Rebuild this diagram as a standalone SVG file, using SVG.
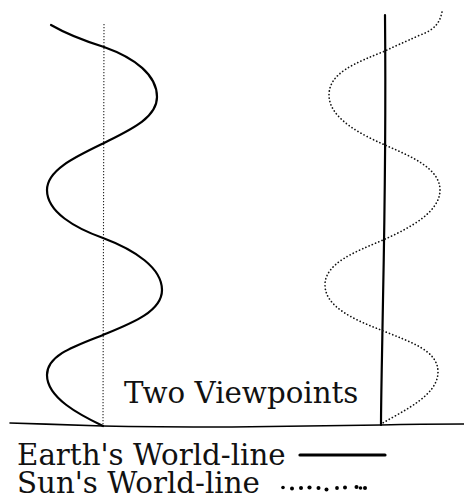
<svg xmlns="http://www.w3.org/2000/svg" width="464" height="500" viewBox="0 0 464 500">
<style>
.solid{fill:none;stroke:#000;stroke-width:2.2;stroke-linecap:round;stroke-linejoin:round}
.dots{fill:none;stroke:#111;stroke-width:1.7;stroke-dasharray:0.1 3.4;stroke-linecap:round}
.fine{fill:none;stroke:#222;stroke-width:1.1;stroke-dasharray:1.2 1.8}
.ld{fill:#000}
text{font-family:"DejaVu Serif",serif;font-size:29.3px;fill:#111}
</style>
<rect width="464" height="500" fill="#fff"/>
<g id="connectors">
<path id="ground" class="solid" style="stroke-width:1.6" d="M10,423 C40,424 80,425 103,426 C150,427 200,427 232,427 C300,426 350,425 381,425 C420,424 445,424 464,424"/>
</g>
<g id="left-panel">
<path id="sun-line-left" class="fine" d="M104,24 L103,426"/>
<path id="earth-orbit-left" class="solid" d="M51,25 C70,36 88,42 104,47 C135,58 157,75 157,97 C157,118 130,130 104,143 C75,157 47,170 47,190 C47,212 75,228 103,238 C135,250 162,268 162,290 C162,312 130,324 103,335 C75,346 47,355 47,375 C47,398 80,415 103,426"/>
</g>
<g id="right-panel">
<path id="earth-line-right" class="solid" d="M385,15 C386,120 384,250 383,300 C382,360 381,400 381,425"/>
<path id="sun-orbit-right" class="dots" d="M442,12 C440,22 435,30 420,35 C405,42 395,46 385,51 C355,63 329,73 329,95 C329,118 360,134 385,145 C410,156 440,168 440,190 C440,212 410,228 383,240 C355,252 325,263 325,285 C325,307 355,320 381,330 C410,342 438,350 438,372 C438,395 405,410 381,424"/>
</g>
<g id="title">
<text x="124" y="403">Two Viewpoints</text>
</g>
<g id="legend">
<text x="17" y="465">Earth's World-line</text>
<line x1="300" y1="455" x2="385" y2="455" stroke="#000" stroke-width="3.2" stroke-linecap="round"/>
<text x="17" y="493">Sun's World-line</text>
<g class="ld">
<circle cx="283" cy="487.5" r="1.8"/>
<circle cx="292" cy="488.5" r="2"/>
<circle cx="301" cy="488" r="2"/>
<circle cx="309.5" cy="487.5" r="2.1"/>
<circle cx="318.5" cy="488" r="2"/>
<circle cx="326.5" cy="489.5" r="2"/>
<circle cx="337" cy="488" r="1.9"/>
<circle cx="345" cy="487.5" r="2"/>
<circle cx="356.5" cy="487" r="2"/>
<circle cx="360.5" cy="488" r="1.8"/>
<circle cx="365" cy="488" r="2"/>
</g>
</g>
</svg>
